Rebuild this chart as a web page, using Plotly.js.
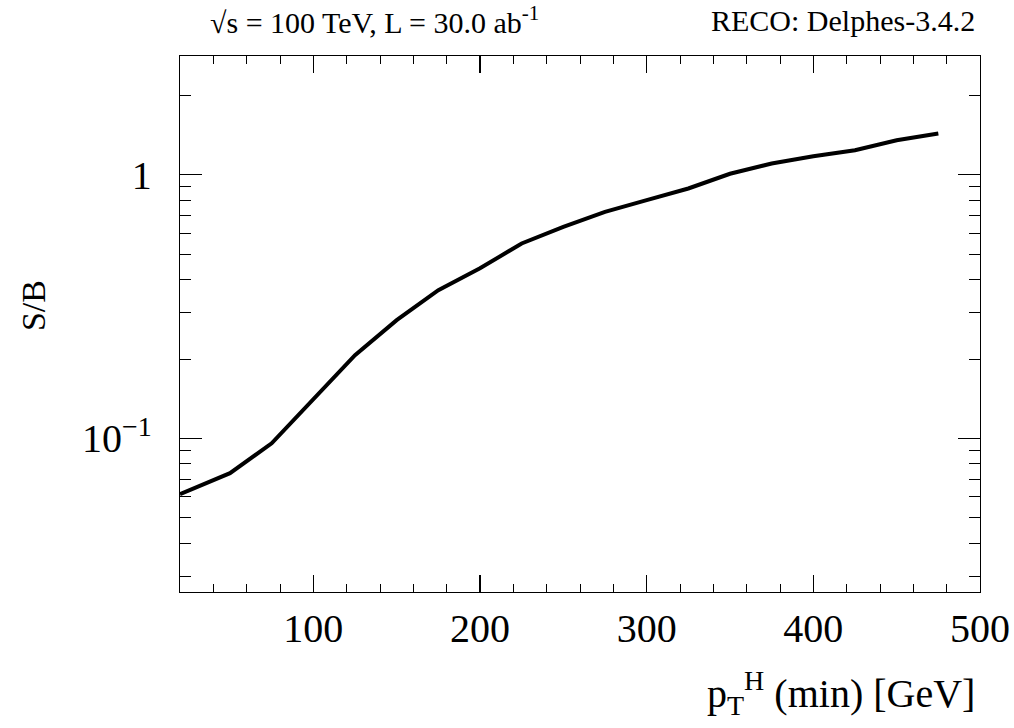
<!DOCTYPE html>
<html>
<head>
<meta charset="utf-8">
<script src="https://cdn.plot.ly/plotly-3.0.1.min.js"></script>
<style>html,body{margin:0;padding:0;background:#fff;}#chart{width:1014px;height:728px;}</style>
</head>
<body>
<div id="chart"></div>
<script>
// pT(min) cut values [GeV]
const ptMin = [20, 50, 75, 100, 125, 150, 175, 200, 225, 250, 275, 300, 325, 350, 375, 400, 425, 450, 475];
// S/B ratio
const sOverB = [0.0614, 0.0738, 0.0958, 0.141, 0.207, 0.281, 0.365, 0.442, 0.549, 0.635, 0.724, 0.802, 0.888, 1.01, 1.105, 1.177, 1.24, 1.354, 1.436];
const yTickVals = [0.1, 1];
const yTickText = ["10<sup>\u22121</sup>", "1"];
const xTickVals = [100, 200, 300, 400, 500];

const FONT = "Liberation Serif, Times New Roman, serif";

const trace = {
  x: ptMin, y: sOverB, type: "scatter", mode: "lines",
  line: {color: "#000", width: 4}, hoverinfo: "skip", showlegend: false
};

const layout = {
  width: 1014, height: 728,
  margin: {l: 180, r: 34, t: 56, b: 136},
  paper_bgcolor: "#fff", plot_bgcolor: "#fff",
  font: {family: FONT, color: "#000"},
  showlegend: false,
  xaxis: {
    range: [20, 500], showgrid: false, zeroline: false,
    showline: true, linecolor: "#000", linewidth: 1.2, mirror: "allticks",
    ticks: "inside", ticklen: 17, tickwidth: 1.2, tickcolor: "#000",
    tickvals: xTickVals, tickfont: {family: FONT, size: 40, color: "#000"},
    ticklabelstandoff: 1,
    minor: {ticks: "inside", ticklen: 8, dtick: 20, tick0: 0, tickwidth: 1, tickcolor: "#000", showgrid: false}
  },
  yaxis: {
    type: "log", range: [Math.log10(0.02612), Math.log10(2.826)],
    showgrid: false, zeroline: false,
    showline: true, linecolor: "#000", linewidth: 1.2, mirror: "allticks",
    ticks: "inside", ticklen: 22, tickwidth: 1.2, tickcolor: "#000",
    tickvals: yTickVals, ticktext: yTickText,
    tickfont: {family: FONT, size: 40, color: "#000"},
    ticklabelstandoff: 19,
    minor: {ticks: "inside", ticklen: 11, dtick: "D1", tickwidth: 1, tickcolor: "#000", showgrid: false}
  },
  annotations: [
    {text: "\u221As = 100 TeV, L = 30.0 ab<sup>-1</sup>", xref: "paper", yref: "paper",
     x: 0.035, y: 1.067, xanchor: "left", yanchor: "middle", showarrow: false,
     font: {family: FONT, size: 30, color: "#000"}},
    {text: "RECO: Delphes-3.4.2", xref: "paper", yref: "paper",
     x: 0.996, y: 1.067, xanchor: "right", yanchor: "middle", showarrow: false,
     font: {family: FONT, size: 30, color: "#000"}},
    {text: "p<sub>T</sub><sup>H</sup> (min) [GeV]", xref: "paper", yref: "paper",
     x: 0.996, y: -0.188, xanchor: "right", yanchor: "middle", showarrow: false,
     font: {family: FONT, size: 40, color: "#000"}},
    {text: "S/B", xref: "paper", yref: "paper", textangle: -90,
     x: -0.184, y: 0.535, xanchor: "center", yanchor: "middle", showarrow: false,
     font: {family: FONT, size: 34, color: "#000"}}
  ]
};

Plotly.newPlot("chart", [trace], layout, {displayModeBar: false, staticPlot: true});
</script>
</body>
</html>
